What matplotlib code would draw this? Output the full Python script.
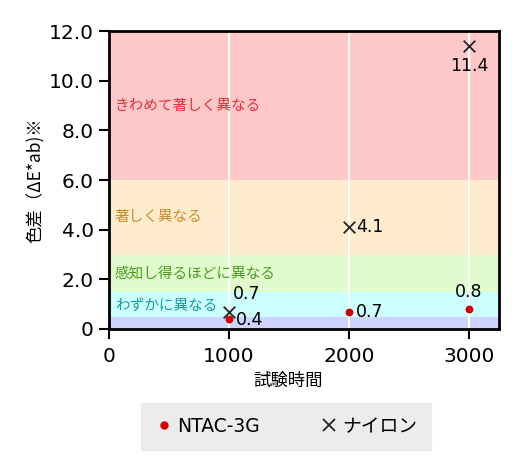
import matplotlib.pyplot as plt
from matplotlib.lines import Line2D

plt.rcParams["font.family"] = ["DejaVu Sans", "Noto Sans CJK JP"]

hours = [1000, 2000, 3000]
ntac = [0.4, 0.7, 0.8]
nylon = [0.7, 4.1, 11.4]

zone_edges = [0, 0.5, 1.5, 3.0, 6.0, 12.0]
zone_colors = ["#ccd4ff", "#ccffff", "#e0fccc", "#ffeccc", "#ffc8c8"]
zone_names = ["", "わずかに異なる", "感知し得るほどに異なる", "著しく異なる", "きわめて著しく異なる"]
zone_text_colors = ["", "#1a9a9a", "#4a9a20", "#cc8a2a", "#e0303a"]
zone_text_y = [0, 0.95, 2.25, 4.5, 9.0]

yticks = [0, 2, 4, 6, 8, 10, 12]
ytick_labels = ["0", "2.0", "4.0", "6.0", "8.0", "10.0", "12.0"]
xticks = [0, 1000, 2000, 3000]

jp = ["Noto Sans CJK JP", "DejaVu Sans"]

fig = plt.figure(figsize=(5.2, 4.7), dpi=100)
ax = fig.add_axes([0.2096, 0.30, 0.75, 0.634])

for i in range(len(zone_colors)):
    ax.axhspan(zone_edges[i], zone_edges[i + 1], color=zone_colors[i], lw=0, zorder=0)
    if zone_names[i]:
        ax.text(50, zone_text_y[i], zone_names[i], color=zone_text_colors[i],
                fontsize=10.5, va="center", ha="left", zorder=2, family=jp)

for x in hours:
    ax.axvline(x, color="white", lw=1.5, zorder=1)

ax.scatter(hours, ntac, color="#d40000", s=32, zorder=4, linewidths=0)
ax.scatter(hours, nylon, color="#222222", marker="x", s=70, linewidths=1.3, zorder=4)

# value labels
ax.annotate(f"{ntac[0]}", (hours[0], ntac[0]), xytext=(5, -1), textcoords="offset points",
            va="center", fontsize=12.5)
ax.annotate(f"{ntac[1]}", (hours[1], ntac[1]), xytext=(5, 0), textcoords="offset points",
            va="center", fontsize=12.5)
ax.annotate(f"{ntac[2]}", (hours[2], ntac[2]), xytext=(0, 6), textcoords="offset points",
            ha="center", va="bottom", fontsize=12.5)
ax.annotate(f"{nylon[0]}", (hours[0], nylon[0]), xytext=(3, 6), textcoords="offset points",
            va="bottom", fontsize=12.5)
ax.annotate(f"{nylon[1]}", (hours[1], nylon[1]), xytext=(5, 0), textcoords="offset points",
            va="center", fontsize=12.5)
ax.annotate(f"{nylon[2]}", (hours[2], nylon[2]), xytext=(0, -8), textcoords="offset points",
            ha="center", va="top", fontsize=12.5)

ax.set_xlim(0, 3250)
ax.set_ylim(0, 12)
ax.set_yticks(yticks)
ax.set_yticklabels(ytick_labels)
ax.set_xticks(xticks)
ax.tick_params(direction="out", length=7, width=1.5, labelsize=14.5, pad=4)
ax.tick_params(axis="x", pad=6)
for s in ax.spines.values():
    s.set_linewidth(2)

ax.set_xlabel("試験時間", fontsize=12.5, labelpad=4, family=jp, x=0.459)
ax.set_ylabel("色差（ΔE*ab)※", fontsize=12.5, labelpad=3, family=jp)

handles = [
    Line2D([], [], marker="o", color="#d40000", ls="", markersize=5),
    Line2D([], [], marker="x", color="#222222", ls="", markersize=8, markeredgewidth=1.3),
]
leg = fig.legend(handles, ["NTAC-3G", "ナイロン"], loc="center", bbox_to_anchor=(0.55, 0.0926),
                 ncol=2, frameon=True, fontsize=13.5, handletextpad=0.2, columnspacing=3.2,
                 fancybox=False, borderpad=0.75, handlelength=1.0)
for t in leg.get_texts():
    t.set_family(["DejaVu Sans", "Noto Sans CJK JP"])
leg.get_frame().set_facecolor("#ececec")
leg.get_frame().set_edgecolor("#ececec")
leg.get_frame().set_alpha(1)

fig.savefig("out.png", dpi=100)
